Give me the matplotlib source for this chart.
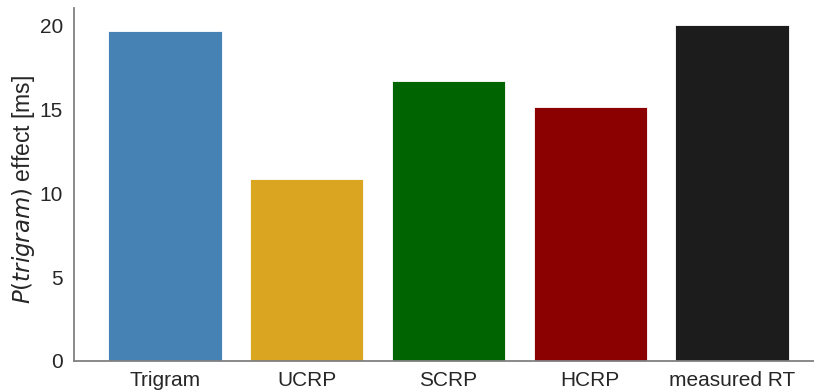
import matplotlib
matplotlib.use("Agg")
import matplotlib.pyplot as plt

# Effect sizes per model
categories = ["Trigram", "UCRP", "SCRP", "HCRP", "measured RT"]
effects = [19.67, 10.83, 16.70, 15.17, 20.03]
colors = ["#4682b4", "#daa520", "#006400", "#8b0000", "#1c1c1c"]
yticks = [0, 5, 10, 15, 20]

plt.rcParams["font.family"] = ["Liberation Sans", "DejaVu Sans"]
plt.rcParams["mathtext.fontset"] = "dejavusans"

fig = plt.figure(figsize=(8.14, 3.91), dpi=100)
ax = fig.add_axes([74 / 814, 30 / 391, (823 - 74) / 814, (383 - 30) / 391])

x = list(range(len(categories)))
ax.bar(x, effects, width=0.8, color=colors, edgecolor="white", linewidth=0.6)

ax.set_xticks(x)
ax.set_xticklabels(categories, fontsize=15)
ax.set_yticks(yticks)
ax.set_yticklabels([str(t) for t in yticks], fontsize=15)
ax.tick_params(axis="both", length=0, colors="#262626")
ax.tick_params(axis="y", pad=8)
ax.tick_params(axis="x", pad=7)

fig.text(24 / 814, 1 - 190 / 391, r"$P(trigram)$ effect [ms]", fontsize=16.5,
         color="#262626", rotation=90, ha="center", va="center")

for side in ("top", "right"):
    ax.spines[side].set_visible(False)
for side in ("left", "bottom"):
    ax.spines[side].set_color("#808080")
    ax.spines[side].set_linewidth(1.3)

ax.margins(x=0.05, y=0.05)
ax.set_ylim(0, 21.05)

fig.savefig("out.png", dpi=100)
